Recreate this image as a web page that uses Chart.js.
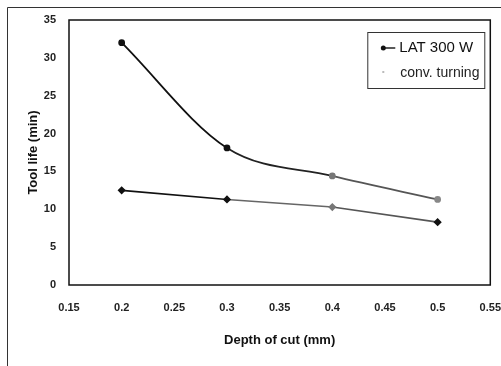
<!DOCTYPE html>
<html>
<head>
<meta charset="utf-8">
<script src="https://cdn.jsdelivr.net/npm/chart.js@4.4.1/dist/chart.umd.min.js"></script>
<style>
    body { margin: 0; background: #fff; }
    #wrap { width: 501px; height: 366px; }
</style>
</head>
<body>
<div id="wrap"><canvas id="lifeChart" width="501" height="366"></canvas></div>
<script>
const depths = [0.2, 0.3, 0.4, 0.5];
const latLife = [32.0, 18.1, 14.4, 11.3];
const convLife = [12.5, 11.3, 10.3, 8.3];
const seriesNames = ['LAT 300 W', 'conv. turning'];
const xTitle = 'Depth of cut (mm)';
const yTitle = 'Tool life (min)';

const toPoints = (xs, ys) => xs.map((x, i) => ({ x: x, y: ys[i] }));

// frame around the figure, box around the plot, and the boxed legend
const framePlugin = {
    id: 'framePlugin',
    beforeDraw(chart) {
        const ctx = chart.ctx;
        ctx.save();
        ctx.fillStyle = '#fff';
        ctx.fillRect(0, 0, chart.width, chart.height);
        ctx.strokeStyle = '#333';
        ctx.lineWidth = 1;
        ctx.beginPath();
        ctx.moveTo(7.5, chart.height);
        ctx.lineTo(7.5, 7.5);
        ctx.lineTo(chart.width, 7.5);
        ctx.stroke();
        ctx.restore();
    },
    afterDraw(chart) {
        const ctx = chart.ctx;
        const a = chart.chartArea;
        ctx.save();
        ctx.strokeStyle = '#111';
        ctx.lineWidth = 1.5;
        ctx.strokeRect(a.left, a.top, a.right - a.left, a.bottom - a.top);

        // legend box
        const w = 117, h = 56;
        const lx = a.right - w - 6, ly = a.top + 12;
        ctx.lineWidth = 1;
        ctx.strokeStyle = '#333';
        ctx.strokeRect(lx + 0.5, ly + 0.5, w, h);

        const ds = chart.data.datasets;
        ctx.textBaseline = 'middle';
        ctx.textAlign = 'left';

        // LAT 300 W
        ctx.strokeStyle = '#222';
        ctx.lineWidth = 1.5;
        ctx.beginPath();
        ctx.moveTo(lx + 14, ly + 16);
        ctx.lineTo(lx + 28, ly + 16);
        ctx.stroke();
        ctx.fillStyle = '#111';
        ctx.beginPath();
        ctx.arc(lx + 16, ly + 16, 2.5, 0, Math.PI * 2);
        ctx.fill();
        ctx.font = '15px "Liberation Sans", Arial, sans-serif';
        ctx.fillText(ds[0].label, lx + 32, ly + 16);

        // conv. turning
        ctx.fillStyle = '#bbb';
        ctx.fillRect(lx + 15, ly + 39, 2, 2);
        ctx.fillStyle = '#222';
        ctx.font = '14px "Liberation Sans", Arial, sans-serif';
        ctx.fillText(ds[1].label, lx + 33, ly + 41);
        ctx.restore();
    }
};

const ctx = document.getElementById('lifeChart').getContext('2d');
const lifeChart = new Chart(ctx, {
    type: 'line',
    data: {
        datasets: [{
            label: seriesNames[0],
            data: toPoints(depths, latLife),
            borderColor: '#1a1a1a',
            borderWidth: 1.8,
            cubicInterpolationMode: 'monotone',
            segment: {
                borderColor: c => ['#111', '#222', '#555'][c.p0DataIndex]
            },
            pointStyle: 'circle',
            pointRadius: 2.5,
            pointBackgroundColor: ['#111', '#111', '#777', '#888'],
            pointBorderColor: ['#111', '#111', '#777', '#888'],
            fill: false
        }, {
            label: seriesNames[1],
            data: toPoints(depths, convLife),
            borderColor: '#333',
            borderWidth: 1.6,
            tension: 0,
            segment: {
                borderColor: c => ['#111', '#666', '#555'][c.p0DataIndex]
            },
            pointStyle: 'rectRot',
            pointRadius: 3,
            pointBackgroundColor: ['#111', '#111', '#777', '#111'],
            pointBorderColor: ['#111', '#111', '#777', '#111'],
            fill: false
        }]
    },
    options: {
        responsive: false,
        animation: false,
        layout: { padding: { top: 20, right: 9, left: 0, bottom: 0 } },
        plugins: {
            legend: { display: false },
            tooltip: { enabled: false }
        },
        scales: {
            x: {
                type: 'linear',
                min: 0.15,
                max: 0.55,
                // hidden tick marks still push the labels down
                grid: { display: false, drawTicks: true, tickLength: 16 },
                border: { display: false },
                ticks: {
                    stepSize: 0.05,
                    padding: 0,
                    color: '#222',
                    font: { family: '"Liberation Sans", Arial, sans-serif', size: 11, weight: 'bold' },
                    callback: v => String(Number(v.toFixed(2)))
                },
                title: {
                    display: true,
                    text: xTitle,
                    color: '#111',
                    font: { family: '"Liberation Sans", Arial, sans-serif', size: 13, weight: 'bold' },
                    padding: { top: 4, bottom: 18 }
                },
                afterFit: scale => { scale.height = 81; }
            },
            y: {
                min: 0,
                max: 35,
                grid: { display: false, drawTicks: false },
                border: { display: false },
                ticks: {
                    stepSize: 5,
                    padding: 13,
                    color: '#222',
                    font: { family: '"Liberation Sans", Arial, sans-serif', size: 11, weight: 'bold' }
                },
                title: {
                    display: true,
                    text: yTitle,
                    color: '#111',
                    font: { family: '"Liberation Sans", Arial, sans-serif', size: 13, weight: 'bold' },
                    padding: { top: 26, bottom: 4 }
                },
                afterFit: scale => { scale.width = 69; }
            }
        }
    },
    plugins: [framePlugin]
});
</script>
</body>
</html>
